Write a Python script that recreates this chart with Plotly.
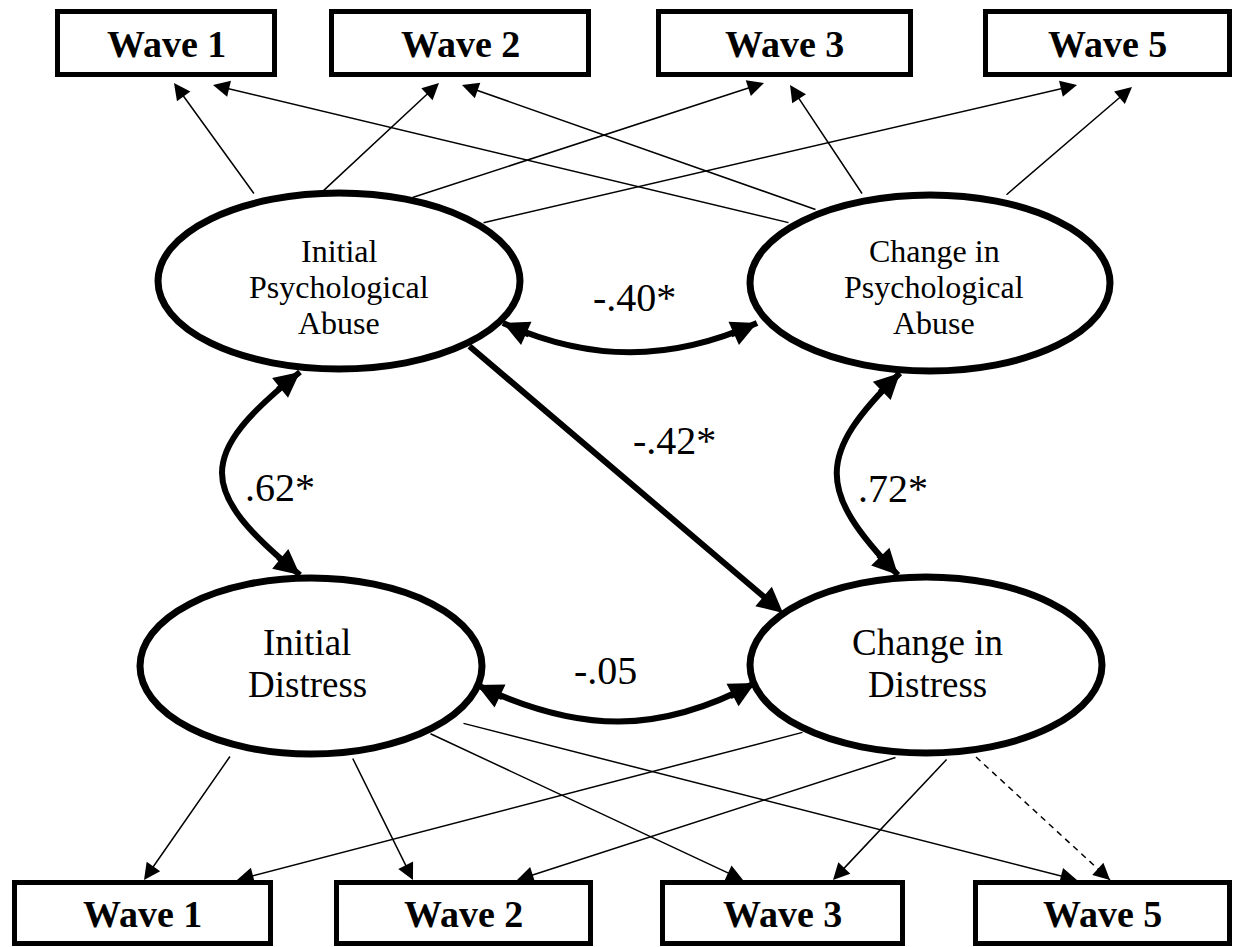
import plotly.graph_objects as go

# ---------------- data ----------------
wave_labels = ["Wave 1", "Wave 2", "Wave 3", "Wave 5"]
latent_keys = ["IPA", "CPA", "ID", "CD"]
latent_lines = [
    ["Initial", "Psychological", "Abuse"],
    ["Change in", "Psychological", "Abuse"],
    ["Initial", "Distress"],
    ["Change in", "Distress"],
]
cov_pairs = [("IPA", "CPA"), ("IPA", "ID"), ("CPA", "CD"), ("ID", "CD")]
cov_labels = ["-.40*", ".62*", ".72*", "-.05"]
reg_pair = ("IPA", "CD")
reg_label = "-.42*"
top_paths = [("IPA", 0), ("IPA", 1), ("IPA", 2), ("IPA", 3),
             ("CPA", 0), ("CPA", 1), ("CPA", 2), ("CPA", 3)]
bottom_paths = [("ID", 0), ("ID", 1), ("ID", 2), ("ID", 3),
                ("CD", 0), ("CD", 1), ("CD", 2), ("CD", 3)]
bottom_dashed = [False, False, False, False, False, False, False, True]

# ---------------- geometry (layout only) ----------------
W, H = 1234, 947
SERIF = "Liberation Serif"
ellipse_geom = {"IPA": (339, 281, 181, 88), "CPA": (930, 283, 180, 88),
                "ID": (311, 666, 171, 88), "CD": (926, 665, 176, 88)}
text_geom = {"IPA": (339, [251, 287, 323], 32), "CPA": (934, [251, 287, 323], 32),
             "ID": (307, [642, 684], 37), "CD": (927, [642, 684], 37)}
top_box_x = [(55, 277), (329, 591), (656, 913), (983, 1232)]
top_box_y = (9, 77)
bot_box_x = [(12, 273), (334, 593), (660, 905), (973, 1232)]
bot_box_y = (880, 946)
top_arrow_geom = [((255, 195), (174, 83)), ((322, 192), (439, 83)),
                  ((411, 198), (764, 83)), ((482, 223), (1077, 85)),
                  ((790, 223), (213, 85)), ((817, 210), (462, 85)),
                  ((863, 195), (790, 85)), ((1005, 196), (1132, 87))]
bot_arrow_geom = [((231, 755), (144, 880)), ((352, 757), (413, 880)),
                  ((429, 733), (743, 880)), ((462, 723), (1077, 880)),
                  ((804, 732), (237, 880)), ((897, 757), (517, 880)),
                  ((948, 758), (833, 880)), ((976, 757), (1110, 880))]
reg_geom = ((468, 345), (783, 613))
cov_curves = [
    [(503, 323), (590, 362), (670, 362), (757, 323)],
    [(300, 372), (196, 455), (196, 490), (300, 575)],
    [(900, 373), (816, 455), (816, 490), (898, 575)],
    [(477, 685), (580, 734), (660, 734), (755, 683)],
]
cov_text_pos = [(634, 297), (280, 487), (893, 488), (605, 670)]
reg_text_pos = (674, 440)

THIN, THICK = 1.5, 6

fig = go.Figure()
fig.add_trace(go.Scatter(x=[0, W], y=[0, H], mode="markers",
                         marker=dict(opacity=0), hoverinfo="skip", showlegend=False))

shapes = []
annotations = []

# boxes
def add_box(x0, x1, y0, y1):
    lw = 5
    shapes.append(dict(type="rect", xref="x", yref="y",
                       x0=x0 + lw / 2, x1=x1 - lw / 2, y0=y0 + lw / 2, y1=y1 - lw / 2,
                       line=dict(color="black", width=lw), fillcolor="white"))

for i, lab in enumerate(wave_labels):
    x0, x1 = top_box_x[i]
    add_box(x0, x1, *top_box_y)
    annotations.append(dict(x=(x0 + x1) / 2, y=(top_box_y[0] + top_box_y[1]) / 2 + 1,
                            xref="x", yref="y", text="<b>%s</b>" % lab, showarrow=False,
                            font=dict(family=SERIF, size=38, color="black")))
    x0, x1 = bot_box_x[i]
    add_box(x0, x1, *bot_box_y)
    annotations.append(dict(x=(x0 + x1) / 2, y=(bot_box_y[0] + bot_box_y[1]) / 2 + 1,
                            xref="x", yref="y", text="<b>%s</b>" % lab, showarrow=False,
                            font=dict(family=SERIF, size=38, color="black")))

# arrow helper
def arrow(tail, tip, width, size, color="black"):
    annotations.append(dict(x=tip[0], y=tip[1], ax=tail[0], ay=tail[1],
                            xref="x", yref="y", axref="x", ayref="y",
                            text="", showarrow=True, arrowhead=2, arrowsize=size,
                            arrowwidth=width, arrowcolor=color, standoff=0))

for (k, w), (tail, tip) in zip(top_paths, top_arrow_geom):
    arrow(tail, tip, THIN, 2.2)

for (k, w), (tail, tip), dashed in zip(bottom_paths, bot_arrow_geom, bottom_dashed):
    if dashed:
        shapes.append(dict(type="line", xref="x", yref="y",
                           x0=tail[0], y0=tail[1], x1=tip[0], y1=tip[1],
                           line=dict(color="black", width=THIN, dash="6px,5px")))
        dx, dy = tail[0] - tip[0], tail[1] - tip[1]
        L = (dx * dx + dy * dy) ** 0.5
        arrow((tip[0] + dx / L * 18, tip[1] + dy / L * 18), tip, THIN, 2.2)
    else:
        arrow(tail, tip, THIN, 2.2)

# thick regression arrow
arrow(reg_geom[0], reg_geom[1], THICK, 0.85)
annotations.append(dict(x=reg_text_pos[0], y=reg_text_pos[1], xref="x", yref="y",
                        text=reg_label, showarrow=False,
                        font=dict(family=SERIF, size=40, color="black")))

# curved double-headed covariance arrows
for pts, lab, tp in zip(cov_curves, cov_labels, cov_text_pos):
    (p0, p1, p2, p3) = pts
    path = "M %f,%f C %f,%f %f,%f %f,%f" % (p0[0], p0[1], p1[0], p1[1], p2[0], p2[1], p3[0], p3[1])
    shapes.append(dict(type="path", xref="x", yref="y", path=path,
                       line=dict(color="black", width=THICK)))
    for tip, ctl in ((p0, p1), (p3, p2)):
        dx, dy = ctl[0] - tip[0], ctl[1] - tip[1]
        L = (dx * dx + dy * dy) ** 0.5
        arrow((tip[0] + dx / L * 30, tip[1] + dy / L * 30), tip, THICK, 0.85)
    annotations.append(dict(x=tp[0], y=tp[1], xref="x", yref="y", text=lab,
                            showarrow=False, font=dict(family=SERIF, size=40, color="black")))

# ellipses
for key, lines in zip(latent_keys, latent_lines):
    cx, cy, rx, ry = ellipse_geom[key]
    shapes.append(dict(type="circle", xref="x", yref="y",
                       x0=cx - rx, x1=cx + rx, y0=cy - ry, y1=cy + ry,
                       line=dict(color="black", width=7), fillcolor="white"))
    tx, tys, fs = text_geom[key]
    for line, ty in zip(lines, tys):
        annotations.append(dict(x=tx, y=ty, xref="x", yref="y", text=line, showarrow=False,
                                font=dict(family=SERIF, size=fs, color="black")))

fig.update_layout(
    width=W, height=H, autosize=False,
    margin=dict(l=0, r=0, t=0, b=0, pad=0),
    paper_bgcolor="white", plot_bgcolor="white",
    xaxis=dict(range=[0, W], visible=False, fixedrange=True),
    yaxis=dict(range=[H, 0], visible=False, fixedrange=True),
    shapes=shapes, annotations=annotations, showlegend=False,
)

fig.write_html("out.html", config={"displayModeBar": False},
               post_script="document.body.style.margin='0';document.body.style.overflow='hidden';")
